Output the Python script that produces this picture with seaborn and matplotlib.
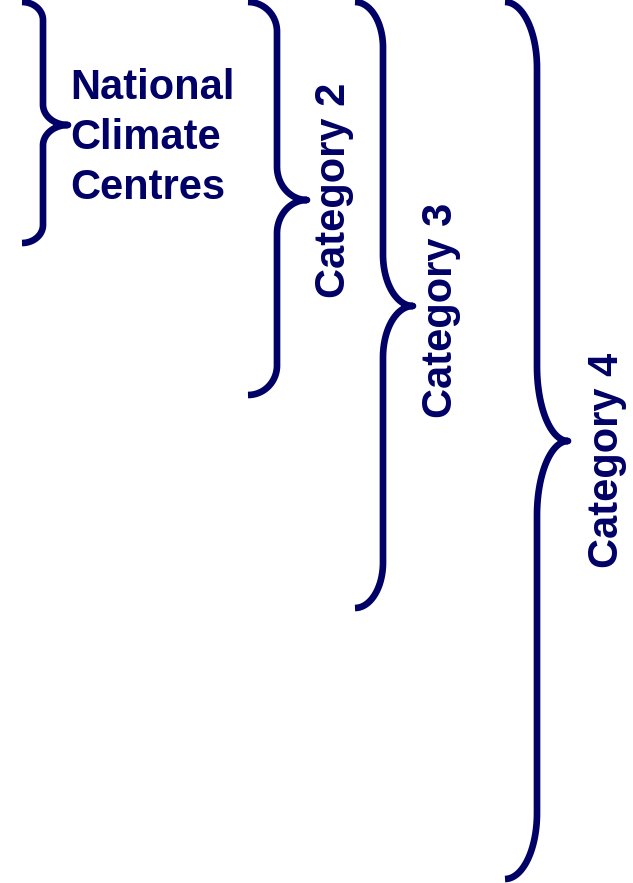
import numpy as np
import pandas as pd
import matplotlib
matplotlib.use("Agg")
import matplotlib.pyplot as plt
import seaborn as sns

# ---- data ----
labels = ["National\nClimate\nCentres", "Category 2", "Category 3", "Category 4"]
span_top = [2, 2, 2, 2]
span_bottom = [243, 395, 608, 879]
span_mid = [125, 200, 306, 441]
brace_x0 = [22, 248, 355, 505]
brace_x1 = [43, 277, 383, 537]
brace_x2 = [68, 307, 413, 568]
label_x = [70, 334, 441, 607]
label_y = [138, 190, 310, 460]
label_rot = [0, 90, 90, 90]

NAVY = "#000066"

sns.set_theme(style="white")
plt.rcParams['font.family'] = ['Liberation Sans', 'DejaVu Sans']

fig = plt.figure(figsize=(6.33, 8.83), dpi=100)
ax = fig.add_axes([0, 0, 1, 1])


def brace_points(x0, x1, x2, y0, ym, y1):
    h = y1 - y0
    re = 0.075 * h
    rm = 0.085 * h
    pts = []
    t = np.linspace(-np.pi / 2, 0, 30)
    pts += list(zip(x0 + (x1 - x0) * np.cos(t), (y0 + re) + re * np.sin(t)))
    t = np.linspace(np.pi, np.pi / 2, 30)
    pts += list(zip(x2 + (x2 - x1) * np.cos(t), (ym - rm) + rm * np.sin(t)))
    t = np.linspace(-np.pi / 2, -np.pi, 30)
    pts += list(zip(x2 + (x2 - x1) * np.cos(t), (ym + rm) + rm * np.sin(t)))
    t = np.linspace(0, np.pi / 2, 30)
    pts += list(zip(x0 + (x1 - x0) * np.cos(t), (y1 - re) + re * np.sin(t)))
    return np.array(pts)


for i in range(len(labels)):
    p = brace_points(brace_x0[i], brace_x1[i], brace_x2[i],
                     span_top[i], span_mid[i], span_bottom[i])
    df = pd.DataFrame({"x": p[:, 0], "y": p[:, 1]})
    sns.lineplot(data=df, x="x", y="y", sort=False, estimator=None,
                 color=NAVY, linewidth=4.8, ax=ax)
    ax.lines[-1].set_solid_capstyle("butt")
    if label_rot[i] == 0:
        ax.text(label_x[i], label_y[i], labels[i], ha="left", va="center",
                fontsize=30, fontweight="bold", color=NAVY, linespacing=1.32)
    else:
        ax.text(label_x[i], label_y[i], labels[i], ha="center", va="center",
                rotation=90, fontsize=30, fontweight="bold", color=NAVY)

ax.set_xlim(0, 633)
ax.set_ylim(883, 0)
ax.set_axis_off()
fig.savefig("out.png", dpi=100, facecolor="white")
